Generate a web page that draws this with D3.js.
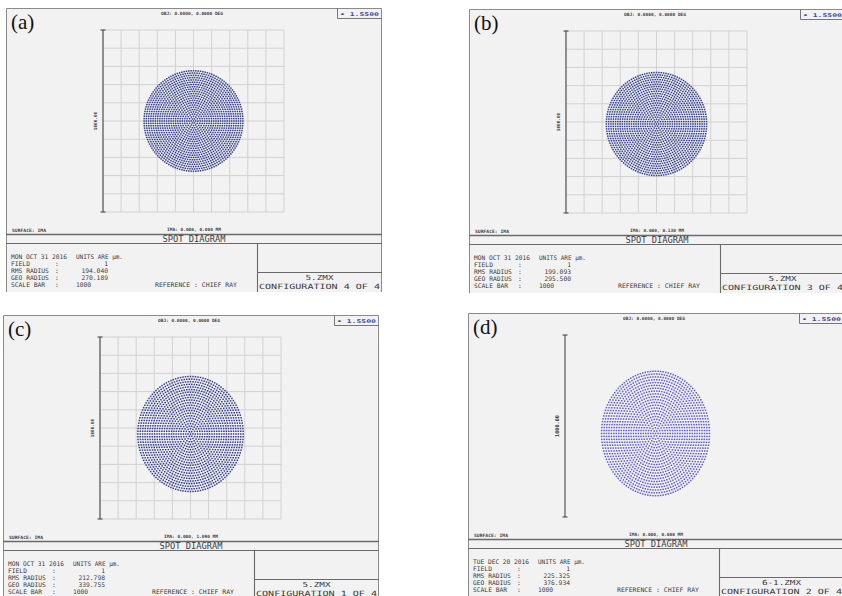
<!DOCTYPE html>
<html>
<head>
<meta charset="utf-8">
<script src="https://cdn.jsdelivr.net/npm/d3@7"></script>
<style>
  html, body { margin: 0; padding: 0; background: #ffffff; }
  svg { display: block; }
</style>
</head>
<body>
<svg id="chart" width="842" height="596"></svg>
<script>
// ---- Spot diagram data (one entry per configuration panel) ----
const panelLabels = ["(a)", "(b)", "(c)", "(d)"];
const objLabels   = ["OBJ: 0.0000, 0.0000 DEG", "OBJ: 0.0000, 0.0000 DEG", "OBJ: 0.0000, 0.0000 DEG", "OBJ: 0.0000, 0.0000 DEG"];
const imaLabels   = ["IMA: 0.000, 0.000 MM", "IMA: 0.000, 0.130 MM", "IMA: 0.000, 1.090 MM", "IMA: 0.000, 0.000 MM"];
const dates       = ["MON OCT 31 2016", "MON OCT 31 2016", "MON OCT 31 2016", "TUE DEC 20 2016"];
const fieldNums   = ["1", "1", "1", "1"];
const rmsRadius   = ["194.040", "199.093", "212.798", "225.325"];
const geoRadius   = ["270.189", "295.500", "339.755", "376.934"];
const scaleBar    = [1000, 1000, 1000, 1000];
const fileNames   = ["5.ZMX", "5.ZMX", "5.ZMX", "6-1.ZMX"];
const configs     = ["CONFIGURATION 4 OF 4", "CONFIGURATION 3 OF 4", "CONFIGURATION 1 OF 4", "CONFIGURATION 2 OF 4"];
const wavelengths = ["1.5500", "1.5500", "1.5500", "1.5500"];
const showGrid    = [true, true, true, false];

// spot footprint on the image plane, in µm (semi-axes and centroid offset)
const spotRx = [273, 277, 291, 298];
const spotRy = [276, 283, 316, 342];
const spotCx = [0, 0, 0, 0];
const spotCy = [0, -11, -33, -41];

// hexapolar pupil sampling: number of rings
const pupilRings = 22;

// ---- layout ----
const panelX = [6, 469, 3, 468];
const panelY = [8, 9, 315, 313];
const W = 376, H = 284;
const mono = "'DejaVu Sans Mono', 'Liberation Mono', monospace";
const textCol = "#3c3c3c";
const lineCol = "#6a6a6a";
const dotCols = ["#313c8e", "#313c8e", "#313c8e", "#5a5ad4"];

const svg = d3.select("#chart");

// pupil coordinates of the traced rays (unit disc, hexapolar rings)
const pupil = [{ r: 0, a: 0 }];
for (let i = 1; i <= pupilRings; i++) {
  for (let k = 0; k < 6 * i; k++) {
    pupil.push({ r: i / pupilRings, a: 2 * Math.PI * k / (6 * i) });
  }
}

function addText(g, x, y, str, size, opt = {}) {
  const t = g.append("text")
    .attr("x", x).attr("y", y)
    .attr("font-family", opt.family || mono)
    .attr("font-size", size)
    .attr("fill", opt.fill || textCol)
    .attr("text-anchor", opt.anchor || "start")
    .attr("font-weight", opt.weight || "normal")
    .text(str);
  if (opt.len) t.attr("textLength", opt.len).attr("lengthAdjust", "spacingAndGlyphs");
  if (opt.transform) t.attr("transform", opt.transform);
  return t;
}

panelLabels.forEach((lab, p) => {
  const g = svg.append("g").attr("transform", `translate(${panelX[p]},${panelY[p]})`);

  // frame
  g.append("rect").attr("x", 0).attr("y", 0).attr("width", W).attr("height", H)
    .attr("fill", "#f2f2f2");
  g.append("path")
    .attr("d", `M0.5,${H} V0.5 H${W - 0.5} V${H}`)
    .attr("fill", "none").attr("stroke", "#8a8a8a").attr("stroke-width", 1);

  // plot scales: a 1000 µm square
  const x = d3.scaleLinear().domain([-500, 500]).range([97, 278]);
  const y = d3.scaleLinear().domain([500, -500]).range([22, 204]);

  if (showGrid[p]) {
    const ticks = d3.range(-500, 501, 100);
    g.append("g").selectAll("line.v").data(ticks).join("line")
      .attr("x1", d => x(d)).attr("x2", d => x(d))
      .attr("y1", y(500)).attr("y2", y(-500))
      .attr("stroke", "#d2d2d2").attr("stroke-width", 1);
    g.append("g").selectAll("line.h").data(ticks).join("line")
      .attr("x1", x(-500)).attr("x2", x(500))
      .attr("y1", d => y(d)).attr("y2", d => y(d))
      .attr("stroke", "#d2d2d2").attr("stroke-width", 1);
  }

  // vertical scale bar
  const sb = g.append("g").attr("stroke", "#4a4a4a").attr("stroke-width", 1.1);
  sb.append("line").attr("x1", x(-500)).attr("x2", x(-500)).attr("y1", y(500)).attr("y2", y(-500));
  sb.append("line").attr("x1", x(-500) - 2.5).attr("x2", x(-500) + 2.5).attr("y1", y(500)).attr("y2", y(500));
  sb.append("line").attr("x1", x(-500) - 2.5).attr("x2", x(-500) + 2.5).attr("y1", y(-500)).attr("y2", y(-500));
  const sbx = x(-500) - 6, sby = y(0);
  addText(g, sbx, sby, scaleBar[p].toFixed(2), p === 3 ? 5.2 : 4.4, {
    anchor: "middle", weight: "bold",
    transform: `rotate(-90,${sbx},${sby})`
  });

  // ray intercepts
  const rays = pupil.map(d => ({
    ux: spotCx[p] + spotRx[p] * d.r * Math.cos(d.a),
    uy: spotCy[p] + spotRy[p] * d.r * Math.sin(d.a)
  }));
  g.append("g").selectAll("rect").data(rays).join("rect")
    .attr("x", d => x(d.ux) - 0.75).attr("y", d => y(d.uy) - 0.75)
    .attr("width", 1.5).attr("height", 1.5)
    .attr("fill", dotCols[p]);

  // panel letter
  addText(g, 5, 21, lab, 21, { family: "'Liberation Serif', 'DejaVu Serif', serif", fill: "#111" });

  // top annotations
  addText(g, W / 2 - 2, 7, objLabels[p], 4.4, { anchor: "middle", weight: "bold", len: 62 });
  g.append("path").attr("d", `M331.5,0 V10.5 H${W}`)
    .attr("fill", "none").attr("stroke", "#777").attr("stroke-width", 1);
  addText(g, 334, 8, "\u2022 " + wavelengths[p], 5, { fill: "#3d4aa6", weight: "bold", len: 39 });

  // footer labels
  addText(g, 6, 224, "SURFACE: IMA", 4.4, { weight: "bold", len: 34 });
  addText(g, W / 2, 223, imaLabels[p], 4.4, { anchor: "middle", weight: "bold", len: 54 });

  // title strip and info boxes
  const fl = g.append("g").attr("stroke", lineCol).attr("fill", "none");
  fl.append("line").attr("x1", 0).attr("x2", W).attr("y1", 226.5).attr("y2", 226.5).attr("stroke-width", 1.4);
  fl.append("line").attr("x1", 0).attr("x2", W).attr("y1", 235.5).attr("y2", 235.5).attr("stroke-width", 1.1);
  fl.append("line").attr("x1", 251.5).attr("x2", 251.5).attr("y1", 235.5).attr("y2", H).attr("stroke-width", 1.1);
  fl.append("line").attr("x1", 251.5).attr("x2", W).attr("y1", 264.5).attr("y2", 264.5).attr("stroke-width", 1.1);

  addText(g, W / 2, 233.5, "SPOT DIAGRAM", 8, { anchor: "middle", len: 63 });

  // statistics block
  const fs = 6.3;
  addText(g, 5, 251, dates[p], fs, { len: 56 });
  addText(g, 70, 251, "UNITS ARE \u00b5m.", fs, { len: 47 });
  addText(g, 5, 257.5, "FIELD", fs);
  addText(g, 5, 264.5, "RMS RADIUS", fs);
  addText(g, 5, 271.5, "GEO RADIUS", fs);
  addText(g, 5, 278.5, "SCALE BAR", fs);
  [257.5, 264.5, 271.5, 278.5].forEach(yy => addText(g, 49, yy, ":", fs));
  addText(g, 102, 257.5, fieldNums[p], fs, { anchor: "end" });
  addText(g, 102, 264.5, rmsRadius[p], fs, { anchor: "end" });
  addText(g, 102, 271.5, geoRadius[p], fs, { anchor: "end" });
  addText(g, 70, 278.5, String(scaleBar[p]), fs);
  addText(g, 149, 278.5, "REFERENCE  : CHIEF RAY", fs, { len: 82 });

  // file / configuration box
  const cx = (251 + W) / 2;
  addText(g, cx, 272, fileNames[p], 7, { anchor: "middle", len: fileNames[p].length * 5.6 });
  addText(g, cx, 280.5, configs[p], 7.2, { anchor: "middle", len: 121 });
});
</script>
</body>
</html>
